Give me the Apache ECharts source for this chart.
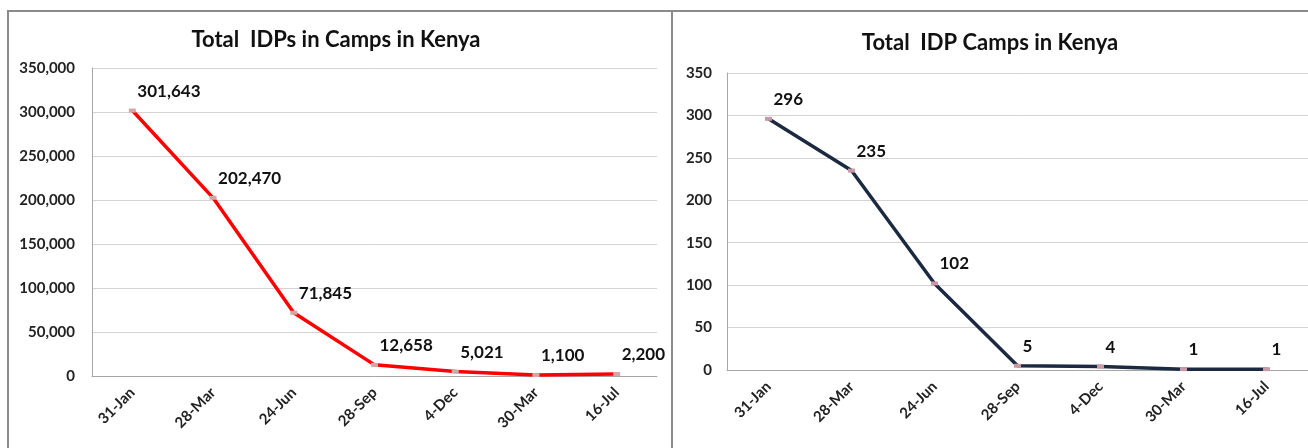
<!DOCTYPE html>
<html>
<head>
<meta charset="utf-8">
<script src="https://cdn.jsdelivr.net/npm/echarts@6/dist/echarts.min.js"></script>
<style>
  body { margin: 0; background: #fff; }
  #wrap { position: relative; width: 1308px; height: 448px; overflow: hidden; }
  .chart { position: absolute; top: 0; height: 448px; }
  .line { position: absolute; background: #8a8a8a; }
</style>
</head>
<body>
<div id="wrap">
  <div id="idps" class="chart" style="left:0;width:672px"></div>
  <div id="camps" class="chart" style="left:672px;width:636px"></div>
  <div class="line" style="left:7px;top:10px;width:2px;height:440px"></div>
  <div class="line" style="left:7px;top:10px;width:1301px;height:2px"></div>
  <div class="line" style="left:671px;top:10px;width:2px;height:440px"></div>
</div>
<script>
// dates of each count
const dates = ["31-Jan", "28-Mar", "24-Jun", "28-Sep", "4-Dec", "30-Mar", "16-Jul"];
// total IDPs in camps
const idpCounts = [301643, 202470, 71845, 12658, 5021, 1100, 2200];
// total IDP camps
const campCounts = [296, 235, 102, 5, 4, 1, 1];

const font = "Lato, 'Open Sans', sans-serif";

function buildOption(title, titleTop, gridCfg, yMax, yStep, values, color, markColor) {
  return {
    animation: false,
    textStyle: { fontFamily: font },
    title: {
      text: title,
      left: "center",
      top: titleTop,
      textStyle: { fontFamily: font, fontSize: 22, fontWeight: "bold", color: "#111" },
    },
    grid: Object.assign({ outerBoundsMode: "none", containLabel: false }, gridCfg),
    xAxis: {
      type: "category",
      data: dates,
      boundaryGap: true,
      axisLine: { show: true, lineStyle: { color: "#a6a6a6", width: 1 } },
      axisTick: { show: false },
      axisLabel: {
        rotate: 45,
        margin: 14,
        interval: 0,
        fontFamily: font,
        fontSize: 15,
        fontWeight: "bold",
        color: "#222",
      },
    },
    yAxis: {
      type: "value",
      min: 0,
      max: yMax,
      interval: yStep,
      axisLine: { show: true, lineStyle: { color: "#a6a6a6", width: 1 } },
      axisTick: { show: false },
      splitLine: { lineStyle: { color: "#d4d4d4", width: 1 } },
      axisLabel: {
        margin: gridCfg.labelMargin,
        fontFamily: font,
        fontSize: 15,
        fontWeight: "bold",
        color: "#222",
        formatter: (v) => v.toLocaleString("en-US"),
      },
    },
    series: [
      {
        type: "line",
        data: values,
        symbol: "rect",
        symbolSize: [7, 4],
        itemStyle: { color: markColor, borderColor: markColor, borderWidth: 0 },
        lineStyle: { color: color, width: 3.5 },
        label: {
          show: true,
          position: "top",
          align: "left",
          distance: 9,
          offset: [5, 0],
          fontFamily: font,
          fontSize: 17,
          fontWeight: "bold",
          color: "#111",
          formatter: (p) => p.value.toLocaleString("en-US"),
        },
      },
    ],
  };
}

function drawIdps() {
  let myChart = echarts.init(document.getElementById("idps"));
  myChart.setOption(
    buildOption(
      "Total  IDPs in Camps in Kenya",
      24,
      { left: 92, top: 68, width: 565, height: 308, labelMargin: 17 },
      350000,
      50000,
      idpCounts,
      "#ff0000",
      "#d3a6aa"
    )
  );
}

function drawCamps() {
  let myChart = echarts.init(document.getElementById("camps"));
  myChart.setOption(
    buildOption(
      "Total  IDP Camps in Kenya",
      27,
      { left: 55, top: 73, width: 581, height: 297, labelMargin: 15 },
      350,
      50,
      campCounts,
      "#1b2a40",
      "#c79aa6"
    )
  );
}

drawIdps();
drawCamps();
</script>
</body>
</html>
